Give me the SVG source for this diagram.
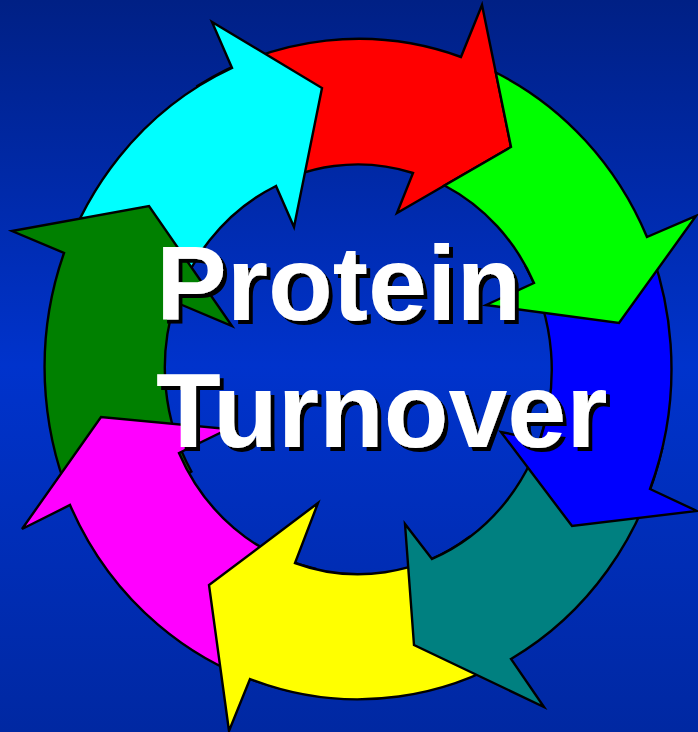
<svg xmlns="http://www.w3.org/2000/svg" width="698" height="732" viewBox="0 0 698 732">
<defs>
<linearGradient id="bg" x1="0" y1="0" x2="0" y2="1">
<stop offset="0" stop-color="#002085"/>
<stop offset="0.5" stop-color="#0033cc"/>
<stop offset="1" stop-color="#0028a2"/>
</linearGradient>
<filter id="shadow" x="-10%" y="-20%" width="130%" height="150%">
<feOffset in="SourceAlpha" dx="4" dy="4" result="off"/>
<feMerge><feMergeNode in="off"/><feMergeNode in="SourceGraphic"/></feMerge>
</filter>
</defs>
<style>
.arr{stroke:#000;stroke-width:2.4;stroke-linejoin:miter}
.t{font-family:"Liberation Sans",Arial,Helvetica,sans-serif;font-weight:bold;font-size:106px;fill:#fff}
</style>
<rect x="0" y="0" width="698" height="732" fill="url(#bg)"/>
<g id="arrows">
<g id="red"><path class="arr" fill="#ff0000" d="M197.3,86.1 A313,330 0 0 1 461,57 L482,5 L511,147 L397,213 L413,173 A193,205 0 0 0 259.1,193.3 Z"/></g>
<g id="cyan"><path class="arr" fill="#00ffff" d="M54.8,289.2 A313,330 0 0 1 232,68 L212,22 L322,88 L294,227 L276,186 A193,205 0 0 0 171.2,319.4 Z"/></g>
<g id="darkgreen"><path class="arr" fill="#008000" d="M87.4,534 A313,330 0 0 1 64,253 L12,231 L149,206 L232,326 L175,302 A193,205 0 0 0 191.4,471.5 Z"/></g>
<g id="magenta"><path class="arr" fill="#ff00ff" d="M288.1,690.5 A313,330 0 0 1 70,505 L22,529 L101,417 L228,429 L179,453 A193,205 0 0 0 315.1,568.7 Z"/></g>
<g id="yellow"><path class="arr" fill="#ffff00" d="M538,639.3 A313,330 0 0 1 250,679 L229,731 L209,585 L318,503 L295,563 A193,205 0 0 0 469.2,536.9 Z"/></g>
<g id="teal"><path class="arr" fill="#008080" d="M662.2,448.8 A313,330 0 0 1 511,659 L544,707 L414,645 L405,524 L432,559 A193,205 0 0 0 545.8,418.6 Z"/></g>
<g id="blue"><path class="arr" fill="#0000ff" d="M629.6,204 A313,330 0 0 1 650,489 L697,511 L572,526 L501,432 L540,440 A193,205 0 0 0 525.6,266.5 Z"/></g>
<g id="green"><path class="arr" fill="#00ff00" d="M495.8,72.5 A313,330 0 0 1 647,237 L696,216 L619,323 L486,305 L534,283 A193,205 0 0 0 444.5,185.5 L511,147 Z"/></g>
</g>
<g id="title" filter="url(#shadow)">
<text class="t" x="156" y="320">Protein</text>
<text class="t" x="156" y="447">Turnover</text>
</g>
</svg>
